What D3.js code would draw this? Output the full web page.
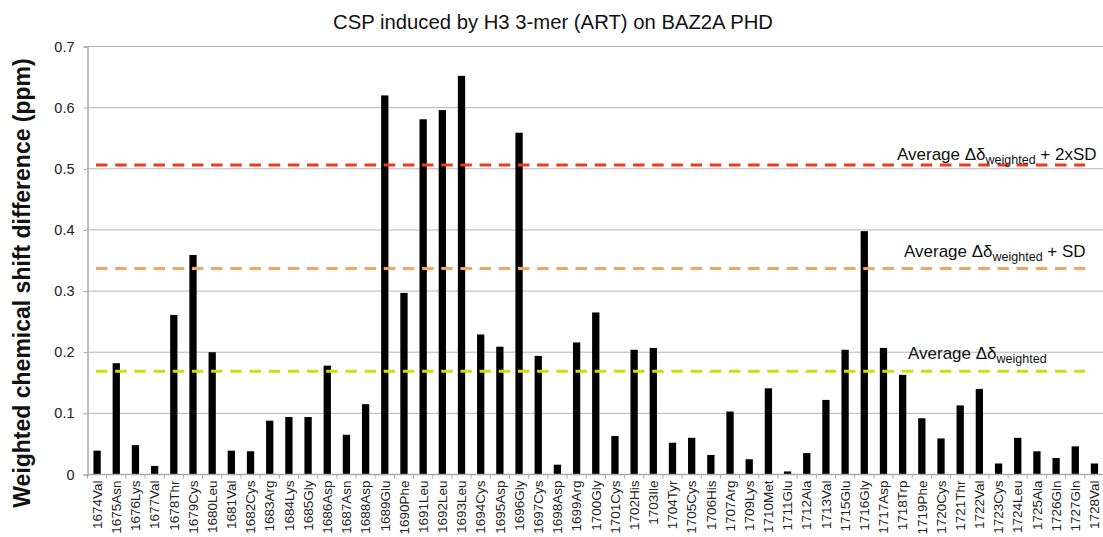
<!DOCTYPE html>
<html>
<head>
<meta charset="utf-8">
<script src="https://cdn.jsdelivr.net/npm/d3@7"></script>
<style>
  body { margin: 0; background: #fff; }
  svg { display: block; font-family: "Liberation Sans", Arial, sans-serif; }
</style>
</head>
<body>
<div id="chart"></div>
<script>
// residues on the x axis
const residues = [
  "1674Val", "1675Asn", "1676Lys", "1677Val", "1678Thr", "1679Cys", "1680Leu", "1681Val",
  "1682Cys", "1683Arg", "1684Lys", "1685Gly", "1686Asp", "1687Asn", "1688Asp", "1689Glu",
  "1690Phe", "1691Leu", "1692Leu", "1693Leu", "1694Cys", "1695Asp", "1696Gly", "1697Cys",
  "1698Asp", "1699Arg", "1700Gly", "1701Cys", "1702His", "1703Ile", "1704Tyr", "1705Cys",
  "1706His", "1707Arg", "1709Lys", "1710Met", "1711Glu", "1712Ala", "1713Val", "1715Glu",
  "1716Gly", "1717Asp", "1718Trp", "1719Phe", "1720Cys", "1721Thr", "1722Val", "1723Cys",
  "1724Leu", "1725Ala", "1726Gln", "1727Gln", "1728Val"
];

// weighted chemical shift difference (ppm)
const shifts = [
  0.039, 0.182, 0.048, 0.014, 0.261, 0.359, 0.200, 0.039,
  0.038, 0.088, 0.094, 0.094, 0.178, 0.065, 0.115, 0.620,
  0.297, 0.581, 0.596, 0.652, 0.229, 0.209, 0.559, 0.194,
  0.016, 0.216, 0.265, 0.063, 0.204, 0.207, 0.052, 0.060,
  0.032, 0.103, 0.025, 0.141, 0.005, 0.035, 0.122, 0.204,
  0.398, 0.207, 0.163, 0.092, 0.059, 0.113, 0.140, 0.018,
  0.060, 0.038, 0.027, 0.046, 0.018
];

const yTicks = [0, 0.1, 0.2, 0.3, 0.4, 0.5, 0.6, 0.7];

// threshold lines: average, +SD, +2xSD
const refValues = [0.169, 0.337, 0.506];
const refSuffix = ["", " + SD", " + 2xSD"];
const refColors = ["#d8d80e", "#f5a561", "#ef3a1d"];

const width = 1103, height = 537;
const margin = { top: 46.5, left: 87.5, bottom: 62.5 };
const plotRight = margin.left + residues.length * 19.18;

const svg = d3.select("#chart").append("svg")
  .attr("width", width)
  .attr("height", height);

const x = d3.scaleBand()
  .domain(residues)
  .range([margin.left, plotRight])
  .paddingInner(0.62)
  .paddingOuter(0.31);

const y = d3.scaleLinear()
  .domain([0, 0.7])
  .range([height - margin.bottom, margin.top]);

// title
svg.append("text")
  .attr("x", 553)
  .attr("y", 29)
  .attr("text-anchor", "middle")
  .style("font-size", "20.3px")
  .attr("fill", "#111")
  .text("CSP induced by H3 3-mer (ART) on BAZ2A PHD");

// gridlines
svg.append("g")
  .selectAll("line")
  .data(yTicks.slice(1))
  .enter().append("line")
  .attr("x1", margin.left)
  .attr("x2", width)
  .attr("y1", d => y(d))
  .attr("y2", d => y(d))
  .attr("stroke", "#b5b5b5")
  .attr("stroke-width", 1);

// y axis
const yAxis = svg.append("g")
  .attr("transform", `translate(${margin.left},0)`)
  .call(d3.axisLeft(y).tickValues(yTicks).tickFormat(d => d === 0 ? "0" : d3.format(".1f")(d))
    .tickSize(4).tickPadding(9));
yAxis.select(".domain").attr("stroke", "#aaa").attr("stroke-width", 1.5);
yAxis.selectAll(".tick line").attr("stroke", "#aaa");
yAxis.selectAll("text")
  .style("font-size", "14.5px")
  .style("font-family", "'Liberation Sans', Arial, sans-serif")
  .attr("fill", "#222");

// y axis title
svg.append("text")
  .attr("transform", `translate(30,${283}) rotate(-90)`)
  .attr("text-anchor", "middle")
  .style("font-size", "23px")
  .style("font-weight", "bold")
  .attr("fill", "#111")
  .text("Weighted chemical shift difference (ppm)");

// bars
svg.append("g")
  .selectAll("rect")
  .data(shifts)
  .enter().append("rect")
  .attr("x", (d, i) => x(residues[i]))
  .attr("y", d => y(d))
  .attr("width", x.bandwidth())
  .attr("height", d => y(0) - y(d))
  .attr("fill", "#000");

// x axis with ticks between categories
const xg = svg.append("g");
xg.append("line")
  .attr("x1", margin.left)
  .attr("x2", width)
  .attr("y1", y(0))
  .attr("y2", y(0))
  .attr("stroke", "#aaa")
  .attr("stroke-width", 1.5);
xg.selectAll(".xt")
  .data(residues)
  .enter().append("line")
  .attr("class", "xt")
  .attr("x1", d => x(d) - x.step() * x.paddingOuter())
  .attr("x2", d => x(d) - x.step() * x.paddingOuter())
  .attr("y1", y(0))
  .attr("y2", y(0) + 4)
  .attr("stroke", "#aaa");
xg.selectAll(".xl")
  .data(residues)
  .enter().append("text")
  .attr("class", "xl")
  .attr("transform", d => `translate(${x(d) + x.bandwidth() / 2},${y(0) + 6}) rotate(-90)`)
  .attr("text-anchor", "end")
  .attr("dy", "0.35em")
  .style("font-size", "13.5px")
  .attr("fill", "#222")
  .text(d => d);

// threshold dashed lines
svg.append("g")
  .selectAll("line")
  .data(refValues)
  .enter().append("line")
  .attr("x1", 96)
  .attr("x2", 1085)
  .attr("y1", d => y(d))
  .attr("y2", d => y(d))
  .attr("stroke", (d, i) => refColors[i])
  .attr("stroke-width", 3)
  .attr("stroke-dasharray", "11.5 7.68");

// threshold labels
const labelX = [908, 904, 897];
const labelOffset = [12, 11, 5];
const labels = svg.append("g")
  .selectAll("text")
  .data(refValues)
  .enter().append("text")
  .attr("x", (d, i) => labelX[i])
  .attr("y", (d, i) => y(d) - labelOffset[i])
  .style("font-size", "17px")
  .attr("fill", "#111");
labels.append("tspan").text("Average \u0394\u03b4");
labels.append("tspan")
  .attr("dy", 4)
  .style("font-size", "12.5px")
  .text("weighted");
labels.append("tspan")
  .attr("dy", -4)
  .text((d, i) => refSuffix[i]);
</script>
</body>
</html>
